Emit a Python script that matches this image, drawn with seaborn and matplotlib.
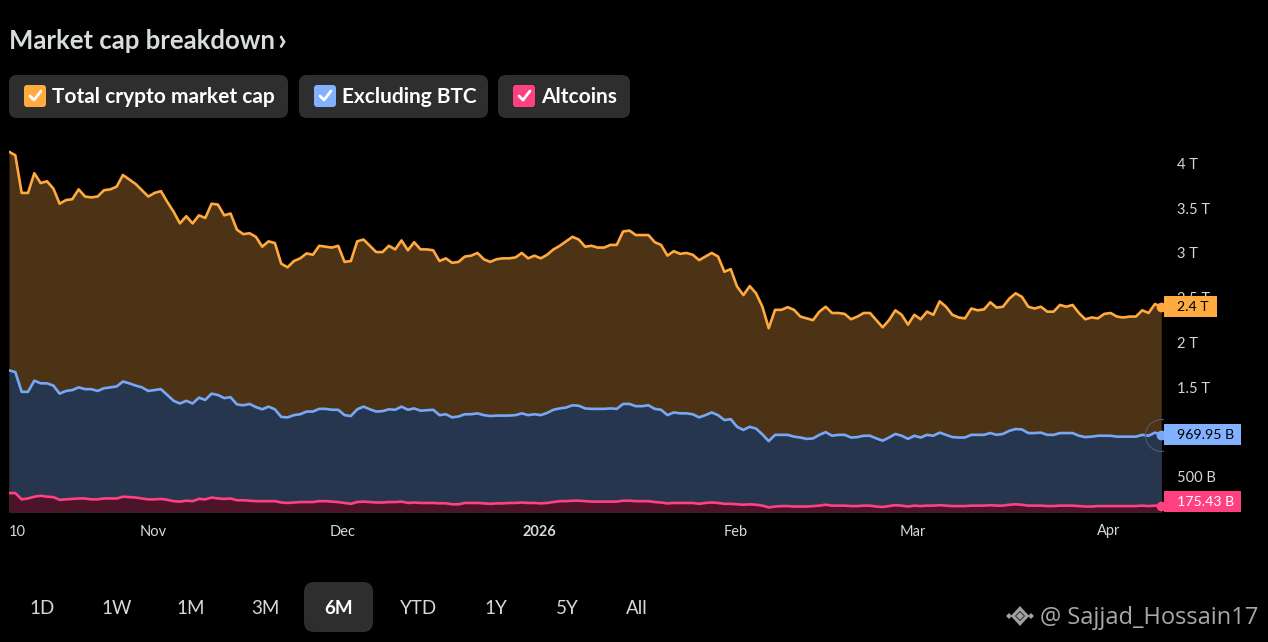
import pandas as pd
import matplotlib.pyplot as plt
import matplotlib.transforms as mtrans
from matplotlib.patches import FancyBboxPatch, Polygon, Rectangle
import seaborn as sns

# Market cap values in trillions, one reading per day
total_cap = [
    4.13, 4.09, 3.67, 3.67, 3.89, 3.78, 3.80, 3.72, 3.55, 3.59, 3.60, 3.71, 3.63, 3.62, 3.63, 3.70,
    3.71, 3.74, 3.87, 3.82, 3.77, 3.70, 3.63, 3.67, 3.69, 3.57, 3.46, 3.33, 3.41, 3.33, 3.42, 3.39,
    3.55, 3.54, 3.42, 3.44, 3.26, 3.21, 3.22, 3.18, 3.07, 3.13, 3.11, 2.88, 2.84, 2.91, 2.94, 2.995,
    2.98, 3.08, 3.07, 3.06, 3.08, 2.90, 2.91, 3.13, 3.15, 3.08, 3.01, 3.01, 3.08, 3.04,
    3.14, 3.03, 3.12, 3.04, 3.04, 3.03, 2.91, 2.94, 2.89, 2.90, 2.96, 2.97, 3.00, 2.93, 2.90, 2.93,
    2.94, 2.94, 2.95, 3.00, 2.94, 2.97, 2.94, 2.98, 3.04, 3.08, 3.13, 3.18, 3.15, 3.07, 3.08, 3.06,
    3.06, 3.09, 3.09, 3.24, 3.25, 3.20, 3.20, 3.20, 3.12, 3.09, 2.97, 3.02, 2.99, 3.00, 2.98, 2.92,
    2.96, 3.00, 2.96, 2.79, 2.82, 2.625, 2.53, 2.63, 2.55, 2.40, 2.16, 2.365, 2.365, 2.395, 2.365,
    2.29, 2.27, 2.25, 2.345, 2.40, 2.33, 2.33, 2.32, 2.26, 2.29, 2.33, 2.33, 2.25, 2.17, 2.25, 2.36,
    2.31, 2.20, 2.31, 2.26, 2.345, 2.31, 2.46, 2.40, 2.31, 2.28, 2.27, 2.38, 2.36, 2.37, 2.45, 2.39,
    2.40, 2.49, 2.55, 2.51, 2.40, 2.38, 2.40, 2.345, 2.345, 2.42, 2.40, 2.42, 2.33, 2.26, 2.28, 2.27,
    2.32, 2.33, 2.29, 2.28, 2.29, 2.29, 2.36, 2.33, 2.43, 2.40,
]
excl_btc = [
    1.69, 1.67, 1.45, 1.45, 1.575, 1.545, 1.545, 1.52, 1.43, 1.46, 1.47, 1.50, 1.48, 1.48, 1.46, 1.49,
    1.50, 1.51, 1.565, 1.545, 1.52, 1.50, 1.46, 1.47, 1.48, 1.415, 1.35, 1.32, 1.35, 1.32, 1.385, 1.36,
    1.43, 1.415, 1.38, 1.39, 1.31, 1.30, 1.315, 1.28, 1.255, 1.285, 1.255, 1.17, 1.165, 1.19, 1.20, 1.23,
    1.23, 1.26, 1.26, 1.25, 1.25, 1.19, 1.18, 1.255, 1.285, 1.255, 1.23, 1.235, 1.255, 1.25,
    1.285, 1.25, 1.265, 1.24, 1.245, 1.25, 1.19, 1.20, 1.165, 1.175, 1.20, 1.20, 1.21, 1.19, 1.18, 1.185,
    1.185, 1.185, 1.19, 1.21, 1.19, 1.20, 1.19, 1.215, 1.25, 1.265, 1.275, 1.30, 1.295, 1.265, 1.26, 1.26,
    1.26, 1.265, 1.26, 1.315, 1.315, 1.29, 1.29, 1.30, 1.26, 1.25, 1.19, 1.22, 1.21, 1.21, 1.20, 1.165,
    1.19, 1.22, 1.19, 1.135, 1.145, 1.06, 1.025, 1.06, 1.04, 0.975, 0.90, 0.97, 0.97, 0.97, 0.95,
    0.94, 0.925, 0.93, 0.97, 1.00, 0.96, 0.97, 0.97, 0.94, 0.945, 0.96, 0.96, 0.93, 0.905, 0.94, 0.98,
    0.96, 0.925, 0.96, 0.94, 0.97, 0.96, 0.995, 0.97, 0.945, 0.94, 0.94, 0.97, 0.97, 0.97, 0.99, 0.97,
    0.98, 1.015, 1.035, 1.03, 0.99, 0.99, 0.995, 0.97, 0.97, 0.99, 0.99, 0.99, 0.96, 0.945, 0.95, 0.96,
    0.96, 0.96, 0.95, 0.95, 0.95, 0.95, 0.97, 0.96, 0.995, 0.97,
]
altcoins = [
    0.32, 0.32, 0.25, 0.26, 0.28, 0.29, 0.28, 0.275, 0.245, 0.25, 0.255, 0.26, 0.26, 0.25, 0.25, 0.26,
    0.26, 0.26, 0.28, 0.275, 0.27, 0.26, 0.25, 0.25, 0.255, 0.245, 0.23, 0.225, 0.235, 0.23, 0.255, 0.25,
    0.27, 0.26, 0.255, 0.26, 0.24, 0.24, 0.235, 0.23, 0.23, 0.23, 0.23, 0.215, 0.21, 0.215, 0.22, 0.22,
    0.22, 0.23, 0.23, 0.225, 0.22, 0.21, 0.20, 0.22, 0.225, 0.22, 0.215, 0.215, 0.22, 0.22,
    0.225, 0.21, 0.215, 0.21, 0.21, 0.21, 0.206, 0.206, 0.195, 0.195, 0.21, 0.21, 0.21, 0.205, 0.20, 0.205,
    0.205, 0.21, 0.21, 0.215, 0.21, 0.21, 0.205, 0.21, 0.22, 0.23, 0.23, 0.235, 0.235, 0.23, 0.225, 0.225,
    0.225, 0.225, 0.225, 0.235, 0.235, 0.23, 0.23, 0.23, 0.22, 0.215, 0.205, 0.21, 0.21, 0.21, 0.21, 0.20,
    0.21, 0.215, 0.21, 0.20, 0.20, 0.195, 0.19, 0.195, 0.19, 0.18, 0.16, 0.17, 0.175, 0.175, 0.17,
    0.17, 0.17, 0.175, 0.18, 0.19, 0.18, 0.18, 0.18, 0.175, 0.175, 0.18, 0.18, 0.17, 0.165, 0.175, 0.185,
    0.18, 0.17, 0.18, 0.175, 0.18, 0.18, 0.185, 0.18, 0.175, 0.175, 0.175, 0.18, 0.18, 0.18, 0.185, 0.18,
    0.18, 0.19, 0.195, 0.19, 0.18, 0.18, 0.18, 0.175, 0.175, 0.18, 0.18, 0.18, 0.175, 0.17, 0.17, 0.175,
    0.175, 0.175, 0.175, 0.175, 0.175, 0.175, 0.18, 0.175, 0.18, 0.175,
]
# 1 T sits under the blue badge in the source, so it is not labelled here
y_ticks = [0.5, 1.5, 2, 2.5, 3, 3.5, 4]
y_labels = ['500 B', '1.5 T', '2 T', '2.5 T', '3 T', '3.5 T', '4 T']
x_tick_dates = ['2025-10-10 12:00', '2025-11-01', '2025-12-01', '2026-01-01', '2026-02-01', '2026-03-01', '2026-04-01']
x_labels = ['10', 'Nov', 'Dec', '2026', 'Feb', 'Mar', 'Apr']
ranges = ['1D', '1W', '1M', '3M', '6M', 'YTD', '1Y', '5Y', 'All']
badges = ['2.4 T', '969.95 B', '175.43 B']
names = ['Total crypto market cap', 'Excluding BTC', 'Altcoins']

ORANGE, BLUE, PINK = '#FFAB40', '#82B1FF', '#FF4081'
LINES = ['#FFA93E', '#78A8F5', '#FF4081']
FILLS = ['#4D3316', '#27364F', '#4C1428']
FONT = 'Lato'

sns.set_theme(style='dark', rc={'figure.facecolor': 'black', 'axes.facecolor': 'black', 'savefig.facecolor': 'black'})
plt.rcParams['font.family'] = [FONT, 'DejaVu Sans']

W, H = 1268, 642
fig = plt.figure(figsize=(W / 100, H / 100), dpi=100)

# pixel coordinate layer for the page controls
ui = fig.add_axes([0, 0, 1, 1])
ui.set_xlim(0, W)
ui.set_ylim(H, 0)
ui.axis('off')


def chip(x0, x1, y0, y1, color, r=8):
    ui.add_patch(FancyBboxPatch((x0 + r, y0 + r), x1 - x0 - 2 * r, y1 - y0 - 2 * r,
                                boxstyle=f'round,pad={r},rounding_size={r}', fc=color, ec='none'))


ui.text(9, 41, 'Market cap breakdown', color='#D9DCDC', fontsize=18.5, fontweight='bold', va='center')
ui.text(277, 41, '›', color='#D9DCDC', fontsize=22, fontweight='bold', va='center')

for (x0, x1, tx), name, col in zip([(9, 288, 52), (299, 488, 342), (498, 630, 541)], names, [ORANGE, BLUE, PINK]):
    chip(x0, x1, 75, 118, '#2E2E2E')
    chip(x0 + 15, x0 + 37, 85, 107, col, r=3)
    ui.plot([x0 + 21, x0 + 25, x0 + 32], [96, 100, 91], color='white', lw=2)
    ui.text(tx, 97, name, color='white', fontsize=15, fontweight='bold', va='center')

chip(304, 373, 582, 632, '#2E2E2E', r=10)
for cx, lab in zip([42, 117, 191, 265, 339, 418, 496, 567, 637], ranges):
    active = lab == '6M'
    ui.text(cx, 609, lab, ha='center', va='center', fontsize=13.5,
            color='white' if active else '#D5D8D8', fontweight='bold' if active else 'normal')

# watermark with the small diamond logo
logo = '#A0A0A0'
for pts in ([(1020, 620), (1024, 616), (1020, 612), (1016, 616)],
            [(1012, 616), (1009, 619), (1006, 616), (1009, 613)],
            [(1034, 616), (1031, 619), (1028, 616), (1031, 613)],
            [(1020, 611), (1013, 618), (1011, 616), (1020, 606), (1029, 616), (1027, 618)],
            [(1020, 621), (1013, 614), (1011, 616), (1020, 626), (1029, 616), (1027, 614)]):
    ui.add_patch(Polygon(pts, fc=logo, ec='none'))
ui.text(1040, 624, '@ Sajjad_Hossain17', color='#A8A8A8', fontsize=17, family='Open Sans', va='baseline')

# chart panel
ax = fig.add_axes([9 / W, 1 - 512 / H, (1163 - 9) / W, (512 - 148) / H])
ax.set_facecolor('black')
dates = pd.date_range('2025-10-09 06:00', periods=len(total_cap), freq='D')
df = pd.DataFrame({'date': dates, 'total': total_cap, 'excl': excl_btc, 'alt': altcoins})

y_bottom = 0.109
px_per_t = 89.6
for i, (col, fill) in enumerate(zip(['total', 'excl', 'alt'], FILLS)):
    ax.fill_between(df['date'], df[col], y_bottom, color=fill, lw=0, zorder=1 + i * 0.1)
for col, line in zip(['total', 'excl', 'alt'], LINES):
    sns.lineplot(data=df, x='date', y=col, color=line, linewidth=1.9, ax=ax, zorder=2)

ax.set_xlim(dates[0], dates[0] + pd.Timedelta(days=(1163 - 9) / 6.331))
ax.set_ylim(y_bottom, y_bottom + (512 - 148) / px_per_t)
ax.set_xlabel('')
ax.set_ylabel('')
ax.grid(False)
for s in ax.spines.values():
    s.set_visible(False)

ax.yaxis.tick_right()
ax.set_yticks(y_ticks)
ax.set_yticklabels(y_labels, color='#D5D8D8', fontsize=10.5)
ax.tick_params(axis='y', length=0, pad=10)
ax.set_xticks(pd.to_datetime(x_tick_dates, format='mixed'))
ax.set_xticklabels(x_labels, color='#D5D8D8', fontsize=10.5)
ax.tick_params(axis='x', length=0, pad=9)
for lab in ax.get_xticklabels():
    if lab.get_text() == '2026':
        lab.set_fontweight('bold')

# last value badges on the price scale, kept inside the pane bottom
trans = mtrans.blended_transform_factory(ax.transAxes, ax.transData)
half_h = 10.5 / px_per_t
for col, text, bg, fg, line, w in zip(['total', 'excl', 'alt'], badges, [ORANGE, BLUE, PINK],
                                      ['black', 'black', 'white'], LINES, [53, 77, 77]):
    last = df[col].iloc[-1]
    mid = max(last, y_bottom + half_h)
    ax.add_patch(Rectangle(((1164 - 9) / 1154, mid - half_h), w / 1154, 2 * half_h, transform=trans,
                           fc=bg, ec='none', zorder=5, clip_on=False))
    ax.text((1177 - 9) / 1154, mid - 0.005, text, transform=trans, color=fg, fontsize=10.2,
            va='center', ha='left', zorder=6, clip_on=False)
    ax.plot(df['date'].iloc[-1], last, 'o', ms=6, color=line, zorder=4, clip_on=False)

ax.plot(df['date'].iloc[-1], df['excl'].iloc[-1], 'o', ms=23, mfc='none', mec='#4A5A78', mew=0.8, zorder=3)

plt.savefig('out.png', dpi=100)
